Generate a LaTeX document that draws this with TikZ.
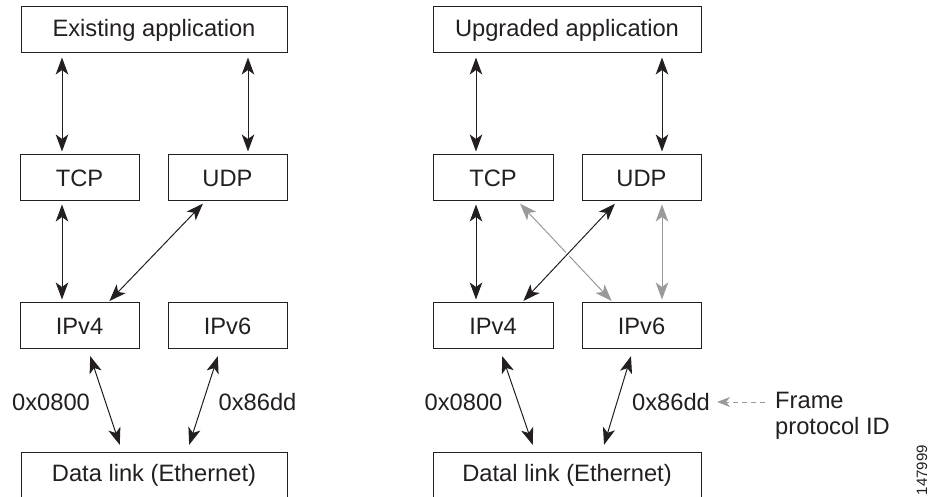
\documentclass[tikz,border=0pt]{standalone}
\usepackage{fontspec}
\setmainfont{Liberation Sans}
\usetikzlibrary{arrows.meta,calc}
\definecolor{ink}{HTML}{231F20}
\definecolor{lgray}{HTML}{9A9A9A}
\tikzset{
  tip/.tip={Stealth[length=17pt,width=12.5pt,inset=4.5pt]},
  box/.style={draw=ink, line width=1pt, minimum height=46pt, inner sep=0pt, text=ink,
              font=\fontsize{23.7}{26}\selectfont},
  lbl/.style={inner sep=0pt, text=ink, font=\fontsize{23.7}{26}\selectfont},
  arr/.style={draw=ink, line width=1pt, {tip}-{tip}},
  grayarr/.style={draw=lgray, line width=1pt, {tip}-{tip}},
}
\begin{document}
\begin{tikzpicture}[x=1pt,y=1pt]
\useasboundingbox (0,0) rectangle (930,-497);
% left stack
\node[box, minimum width=266pt] (app1) at (154,-30) {Existing application};
\node[box, minimum width=119pt] (tcp1) at (79.5,-178) {TCP};
\node[box, minimum width=119pt] (udp1) at (227.5,-178) {UDP};
\node[box, minimum width=119pt] (ip41) at (79.5,-326) {IPv4};
\node[box, minimum width=119pt] (ip61) at (227.5,-326) {IPv6};
\node[box, minimum width=266pt] (dl1) at (154,-475) {Data link (Ethernet)};
% right stack
\node[box, minimum width=268pt] (app2) at (567,-30) {Upgraded application};
\node[box, minimum width=120pt] (tcp2) at (493,-178) {TCP};
\node[box, minimum width=119pt] (udp2) at (641.5,-178) {UDP};
\node[box, minimum width=120pt] (ip42) at (493,-326) {IPv4};
\node[box, minimum width=119pt] (ip62) at (641.5,-326) {IPv6};
\node[box, minimum width=268pt] (dl2) at (567,-475) {Datal link (Ethernet)};
% labels
\node[lbl] (l08l) at (51,-402) {0x0800};
\node[lbl] (l86l) at (257.5,-402) {0x86dd};
\node[lbl] (l08r) at (463.5,-402) {0x0800};
\node[lbl] (l86r) at (671,-402) {0x86dd};
\node[lbl, anchor=west, align=left] (frame) at (775,-416) {Frame\\protocol ID};
\node[inner sep=0pt, text=ink, font=\fontsize{15}{17}\selectfont, rotate=90] (fig) at (922,-470) {147999};
% left connectors
\draw[arr, shorten <=4pt, shorten >=3pt] ([xshift=-17.5pt]tcp1.north |- app1.south) -- ([xshift=-17.5pt]tcp1.north);
\draw[arr, shorten <=4pt, shorten >=3pt] ([xshift=20.5pt]udp1.north |- app1.south) -- ([xshift=20.5pt]udp1.north);
\draw[arr, shorten <=3pt, shorten >=3pt] ([xshift=-17.5pt]tcp1.south) -- ([xshift=-17.5pt]ip41.north);
\draw[arr, shorten <=3pt, shorten >=2pt] ([xshift=-22.5pt]udp1.south) -- ([xshift=28.5pt]ip41.north);
\draw[arr, shorten <=7pt, shorten >=7pt] ([xshift=8.5pt]ip41.south) -- ([xshift=-32pt]dl1.north);
\draw[arr, shorten <=7pt, shorten >=7pt] ([xshift=-7.5pt]ip61.south) -- ([xshift=33pt]dl1.north);
% right connectors
\draw[arr, shorten <=4pt, shorten >=3pt] ([xshift=-17pt]tcp2.north |- app2.south) -- ([xshift=-17pt]tcp2.north);
\draw[arr, shorten <=4pt, shorten >=3pt] ([xshift=20.5pt]udp2.north |- app2.south) -- ([xshift=20.5pt]udp2.north);
\draw[arr, shorten <=3pt, shorten >=3pt] ([xshift=-17pt]tcp2.south) -- ([xshift=-17pt]ip42.north);
\draw[grayarr, shorten <=3pt, shorten >=2pt] ([xshift=25pt]tcp2.south) -- ([xshift=-28.5pt]ip62.north);
\draw[arr, shorten <=3pt, shorten >=2pt, preaction={draw=white, line width=4pt, -, shorten <=40pt, shorten >=40pt}] ([xshift=-24.5pt]udp2.south) -- ([xshift=29pt]ip42.north);
\draw[grayarr, shorten <=3pt, shorten >=3pt] ([xshift=20.5pt]udp2.south) -- ([xshift=20.5pt]ip62.north);
\draw[arr, shorten <=7pt, shorten >=7pt] ([xshift=7pt]ip42.south) -- ([xshift=-32pt]dl2.north);
\draw[arr, shorten <=7pt, shorten >=7pt] ([xshift=-8.5pt]ip62.south) -- ([xshift=35pt]dl2.north);
% frame protocol pointer
\draw[draw=lgray, line width=1pt, dash pattern=on 5pt off 4pt, -{Stealth[length=13pt,width=10pt,inset=4pt]}, shorten <=10pt, shorten >=7pt] (frame.west |- l86r.east) -- (l86r.east);
\end{tikzpicture}
\end{document}
